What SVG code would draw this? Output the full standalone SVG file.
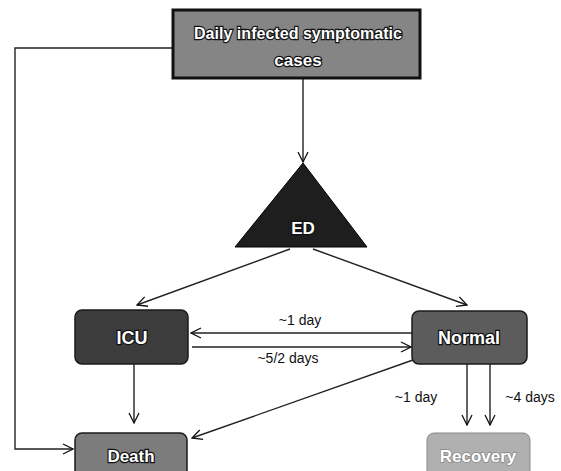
<svg xmlns="http://www.w3.org/2000/svg" width="561" height="471" viewBox="0 0 561 471">
<defs>
<marker id="arr" viewBox="0 0 12 12" refX="11" refY="6" markerWidth="12" markerHeight="12" markerUnits="userSpaceOnUse" orient="auto">
<path d="M1,1 L11,6 L1,11" fill="none" stroke="#111" stroke-width="1.3"/>
</marker>
</defs>
<style>
.ln{fill:none;stroke:#222;stroke-width:1.4;marker-end:url(#arr)}
.nt{font-family:"Liberation Sans",Arial,sans-serif;font-weight:bold;fill:#fff;stroke:#111;stroke-width:2.4;paint-order:stroke;text-anchor:middle}
.lb{font-family:"Liberation Sans",Arial,sans-serif;font-size:14px;fill:#111;text-anchor:middle}
.bx{stroke:#1a1a1a;stroke-width:1.5}
</style>
<rect width="561" height="471" fill="#fff"/>
<g id="connectors">
<polyline class="ln" points="173,48 15,48 15,449 73,449"/>
<line class="ln" x1="303" y1="79" x2="303" y2="162"/>
<line class="ln" x1="290" y1="249" x2="137" y2="305"/>
<line class="ln" x1="313" y1="249" x2="467" y2="305"/>
<line class="ln" x1="412" y1="333" x2="191" y2="333"/>
<line class="ln" x1="192" y1="347" x2="411" y2="347"/>
<line class="ln" x1="134" y1="364" x2="134" y2="423"/>
<line class="ln" x1="413" y1="360" x2="192" y2="438"/>
<line class="ln" x1="467" y1="364" x2="467" y2="425"/>
<line class="ln" x1="490" y1="364" x2="490" y2="425"/>
<text class="lb" x="300" y="325">~1 day</text>
<text class="lb" x="288" y="363">~5/2 days</text>
<text class="lb" x="416" y="402">~1 day</text>
<text class="lb" x="530" y="402">~4 days</text>
</g>
<g id="daily">
<rect x="173" y="10" width="247" height="68" fill="#858585" stroke="#111" stroke-width="3"/>
<text class="nt" x="298" y="39" font-size="17" textLength="208" lengthAdjust="spacingAndGlyphs">Daily infected symptomatic</text>
<text class="nt" x="298" y="66" font-size="17">cases</text>
</g>
<g id="ed">
<polygon points="303,163 235,247 367,247" fill="#1e1e1e" stroke="#000" stroke-width="1"/>
<text class="nt" x="303" y="234" font-size="17">ED</text>
</g>
<g id="icu">
<rect class="bx" x="75" y="310" width="113" height="54" rx="7" fill="#3c3c3c"/>
<text class="nt" x="132" y="344" font-size="18">ICU</text>
</g>
<g id="normal">
<rect class="bx" x="412" y="311" width="115" height="53" rx="7" fill="#5c5c5c"/>
<text class="nt" x="469" y="344" font-size="18">Normal</text>
</g>
<g id="death">
<rect class="bx" x="75" y="433" width="112" height="45" rx="7" fill="#7c7c7c"/>
<text class="nt" x="131" y="462" font-size="17">Death</text>
</g>
<g id="recovery">
<rect x="427" y="433" width="103" height="45" rx="7" fill="#b0b0b0" stroke="#888" stroke-width="1"/>
<text class="nt" x="478" y="462" font-size="17" style="stroke:#888;stroke-width:1.5">Recovery</text>
</g>
</svg>
